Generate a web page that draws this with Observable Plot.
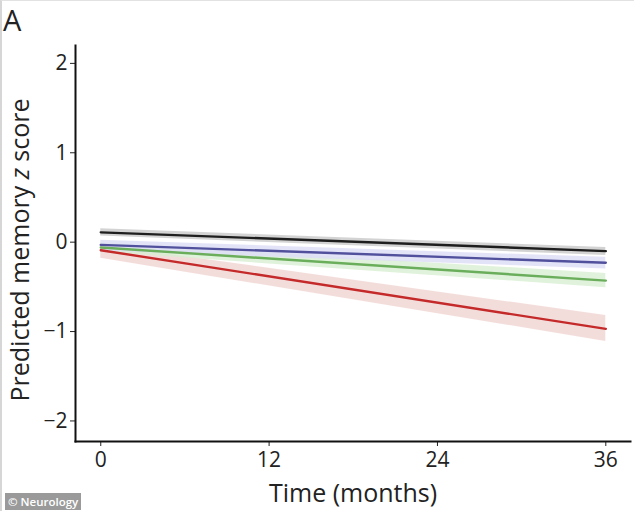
<!DOCTYPE html>
<html>
<head>
<meta charset="utf-8">
<script src="https://cdn.jsdelivr.net/npm/d3@7"></script>
<script src="https://cdn.jsdelivr.net/npm/@observablehq/plot@0.6"></script>
<style>
  html, body { margin: 0; padding: 0; background: #fff; }
  #wrap { position: relative; width: 634px; height: 511px; overflow: hidden; font-family: "Open Sans", sans-serif; }
  #edge { position: absolute; left: 0; top: 0; width: 632px; height: 510px; border-left: 2px solid #d6d6d6; border-top: 1px solid #e2e2e2; pointer-events: none; }
  #panel { position: absolute; left: 3px; top: 0px; font-size: 29px; line-height: normal; color: #222; }
  #credit { position: absolute; left: 5px; top: 493px; background: #9a9a9a; color: #fff; font-size: 11.5px; font-weight: 600; padding: 0 3px; line-height: 17px; font-family: "Open Sans", sans-serif; }
  #chart { position: absolute; left: 0; top: 0; }
</style>
</head>
<body>
<div id="wrap">
  <div id="chart"></div>
  <div id="edge"></div>
  <div id="panel">A</div>
  <div id="credit">© Neurology</div>
</div>
<script>
// Data (values at start and end of 36 months)
const times = [0, 36];
const groups = ["black", "blue", "green", "red"];
const seriesFit   = { black: [0.11, -0.10], blue: [-0.03, -0.23], green: [-0.06, -0.43], red: [-0.09, -0.97] };
const seriesLower = { black: [0.07, -0.15], blue: [-0.10, -0.30], green: [-0.11, -0.51], red: [-0.18, -1.11] };
const seriesUpper = { black: [0.15, -0.06], blue: [0.02, -0.17], green: [-0.01, -0.35], red: [-0.03, -0.82] };
const lineColors = { black: "#1e1e1e", blue: "#50509c", green: "#6aae5c", red: "#c42a2a" };
const bandColors = { black: "#c8c8c8", blue: "#dcdcf6", green: "#d8efd2", red: "#f0d4d2" };
const xTicks = [0, 12, 24, 36];
const yTicks = [-2, -1, 0, 1, 2];

const rows = [];
for (const g of groups) {
  times.forEach((t, i) => rows.push({ group: g, time: t, fit: seriesFit[g][i], lo: seriesLower[g][i], hi: seriesUpper[g][i] }));
}
const bandOrder = ["red", "green", "blue", "black"];

const marks = [];
for (const g of bandOrder) {
  marks.push(Plot.areaY(rows.filter(d => d.group === g), { x: "time", y1: "lo", y2: "hi", fill: bandColors[g], fillOpacity: 0.8 }));
}
for (const g of bandOrder) {
  marks.push(Plot.line(rows.filter(d => d.group === g), { x: "time", y: "fit", stroke: lineColors[g], strokeWidth: 2.4 }));
}
marks.push(Plot.axisX({ ticks: xTicks, tickSize: 5, tickPadding: 6, label: null, fontSize: 21, tickFormat: d => String(d) }));
marks.push(Plot.axisY({ ticks: yTicks, tickSize: 5, tickPadding: 3, label: null, fontSize: 21, tickFormat: d => d < 0 ? "\u2212" + (-d) : String(d) }));
marks.push(Plot.frame({ anchor: "left", strokeWidth: 2, stroke: "#111" }));
marks.push(Plot.frame({ anchor: "bottom", strokeWidth: 2, stroke: "#111" }));
marks.push(Plot.text(["Time (months)"], { frameAnchor: "bottom", dy: 60, fontSize: 25, fill: "#222" }));

const chart = Plot.plot({
  width: 634,
  height: 511,
  marginLeft: 75,
  marginRight: 4,
  marginTop: 45,
  marginBottom: 70,
  style: { fontFamily: "Open Sans, sans-serif", color: "#222", background: "#fff" },
  x: { domain: [-1.8, 37.76] },
  y: { domain: [-2.23, 2.2] },
  marks
});

const svg = d3.select(chart);
const yl = svg.append("text")
  .attr("transform", "translate(29,250) rotate(-90)")
  .attr("text-anchor", "middle")
  .attr("font-size", 25)
  .attr("fill", "#222")
  .attr("font-family", "Open Sans, sans-serif");
yl.append("tspan").text("Predicted memory ");
yl.append("tspan").attr("font-style", "italic").text("z");
yl.append("tspan").text(" score");

document.getElementById("chart").appendChild(chart);
</script>
</body>
</html>
